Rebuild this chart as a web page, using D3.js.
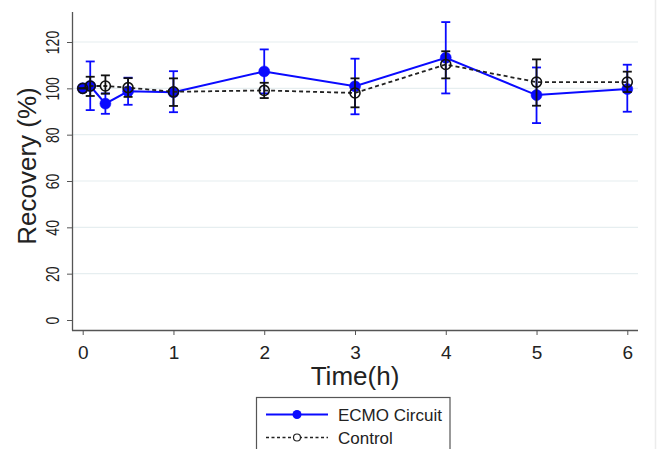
<!DOCTYPE html>
<html>
<head>
<meta charset="utf-8">
<script src="https://cdn.jsdelivr.net/npm/d3@7"></script>
<style>
  body { margin: 0; background: #fff; }
  svg { display: block; font-family: "Liberation Sans", Arial, sans-serif; }
</style>
</head>
<body>
<div id="chart"></div>
<script>
// time points (h)
const time = [0, 0.083, 0.25, 0.5, 1, 2, 3, 4, 5, 6];
// ECMO circuit recovery (%) with error bar limits
const ecmoMean = [100, 101, 93.4, 98.7, 98.3, 107.3, 100.9, 113.2, 97.1, 99.7];
const ecmoLo   = [100, 90.6, 89.0, 92.9, 89.7, 97.8, 88.8, 97.8, 85.0, 89.9];
const ecmoHi   = [100, 111.6, 97.8, 104.6, 107.4, 116.8, 112.8, 128.6, 109.0, 110.2];
// control
const ctrlMean = [100, 101, 101, 100.3, 98.5, 99.1, 98.0, 110.3, 102.7, 102.7];
const ctrlLo   = [100, 96.7, 97.7, 96.3, 92.4, 95.8, 91.8, 104.3, 92.5, 98.4];
const ctrlHi   = [100, 105.0, 105.6, 104.4, 104.3, 102.4, 104.3, 116.0, 112.5, 107.2];

const xTicks = [0, 1, 2, 3, 4, 5, 6];
const yTicks = [0, 20, 40, 60, 80, 100, 120];

const width = 660, height = 449;
const svg = d3.select("#chart").append("svg")
    .attr("width", width).attr("height", height);

const x = d3.scaleLinear().domain([0, 6]).range([82.7, 627.3]);
const y = d3.scaleLinear().domain([0, 120]).range([320, 42]);
const axisColor = "#555";

// faint strip at the right edge
svg.append("line").attr("x1", 655.5).attr("x2", 655.5).attr("y1", 0).attr("y2", height)
    .attr("stroke", "#ececec").attr("stroke-width", 1.5);

// gridlines
svg.append("g").selectAll("line")
    .data(yTicks.filter(d => d > 0))
    .join("line")
    .attr("x1", 73).attr("x2", 638)
    .attr("y1", d => y(d)).attr("y2", d => y(d))
    .attr("stroke", "#e6eef0").attr("stroke-width", 1.2);

// y axis
const yAxis = svg.append("g").attr("transform", "translate(72,0)")
    .call(d3.axisLeft(y).tickValues(yTicks).tickSize(5).tickFormat(d3.format("d")));
yAxis.select(".domain").attr("d", "M0.5,12V330.5");
yAxis.selectAll("line").attr("stroke", axisColor);
yAxis.select(".domain").attr("stroke", axisColor).attr("stroke-width", 1.3);
yAxis.selectAll("text")
    .attr("x", 0).attr("y", 0).attr("dy", null)
    .attr("transform", "translate(-13,0) rotate(-90) scale(0.78,1)")
    .attr("text-anchor", "middle")
    .attr("font-size", 18).attr("fill", "#222");

// x axis
const xAxis = svg.append("g").attr("transform", "translate(0,330)")
    .call(d3.axisBottom(x).tickValues(xTicks).tickSize(5).tickFormat(d3.format("d")));
xAxis.select(".domain").attr("d", "M72,0.5H638").attr("stroke", axisColor).attr("stroke-width", 1.3);
xAxis.selectAll("line").attr("stroke", axisColor);
xAxis.selectAll("text").attr("y", 29).attr("dy", null)
    .attr("font-size", 19).attr("fill", "#222");

// axis titles
svg.append("text")
    .attr("transform", "translate(36,166) rotate(-90)")
    .attr("text-anchor", "middle")
    .attr("font-size", 26).attr("fill", "#222")
    .text("Recovery (%)");
svg.append("text")
    .attr("x", 355).attr("y", 385)
    .attr("text-anchor", "middle")
    .attr("font-size", 26).attr("fill", "#222")
    .text("Time(h)");

const blue = "#0a0aff";
const line = d3.line().x(d => x(d[0])).y(d => y(d[1]));

function drawSeries(mean, lo, hi, color, opts) {
    const g = svg.append("g");
    const pts = time.map((t, i) => [t, mean[i]]);
    g.append("path").datum(pts)
        .attr("d", line)
        .attr("fill", "none")
        .attr("stroke", opts.lineColor)
        .attr("stroke-width", opts.lineWidth)
        .attr("stroke-dasharray", opts.dash);
    const bars = g.selectAll("g.bar").data(time.map((t, i) => ({ t, lo: lo[i], hi: hi[i] })))
        .join("g");
    bars.append("line")
        .attr("x1", d => x(d.t)).attr("x2", d => x(d.t))
        .attr("y1", d => y(d.lo)).attr("y2", d => y(d.hi))
        .attr("stroke", color).attr("stroke-width", 1.8);
    ["lo", "hi"].forEach(k => {
        bars.append("line")
            .attr("x1", d => x(d.t) - 4.5).attr("x2", d => x(d.t) + 4.5)
            .attr("y1", d => y(d[k])).attr("y2", d => y(d[k]))
            .attr("stroke", color).attr("stroke-width", 1.8);
    });
    g.selectAll("circle").data(pts).join("circle")
        .attr("cx", d => x(d[0])).attr("cy", d => y(d[1]))
        .attr("r", opts.r)
        .attr("fill", opts.fill)
        .attr("stroke", color)
        .attr("stroke-width", opts.strokeWidth);
}

drawSeries(ecmoMean, ecmoLo, ecmoHi, blue,
    { lineColor: blue, lineWidth: 2, dash: null, r: 5.5, fill: blue, strokeWidth: 0.5 });
drawSeries(ctrlMean, ctrlLo, ctrlHi, "#111",
    { lineColor: "#222", lineWidth: 1.8, dash: "4,3", r: 5, fill: "none", strokeWidth: 1.6 });

// legend
const leg = svg.append("g");
leg.append("rect")
    .attr("x", 256.5).attr("y", 397.5).attr("width", 193.5).attr("height", 60)
    .attr("fill", "#fff").attr("stroke", axisColor).attr("stroke-width", 1.2);
leg.append("line").attr("x1", 266).attr("x2", 328).attr("y1", 414.5).attr("y2", 414.5)
    .attr("stroke", blue).attr("stroke-width", 1.8);
leg.append("circle").attr("cx", 297).attr("cy", 414.5).attr("r", 4.5).attr("fill", blue);
leg.append("line").attr("x1", 266).attr("x2", 328).attr("y1", 437.5).attr("y2", 437.5)
    .attr("stroke", "#222").attr("stroke-width", 1.3).attr("stroke-dasharray", "3,2.5");
leg.append("circle").attr("cx", 297).attr("cy", 437.5).attr("r", 3.5)
    .attr("fill", "#fff").attr("stroke", "#222").attr("stroke-width", 1.2);
leg.append("text").attr("x", 338).attr("y", 421).attr("font-size", 17).attr("fill", "#222")
    .text("ECMO Circuit");
leg.append("text").attr("x", 338).attr("y", 444).attr("font-size", 17).attr("fill", "#222")
    .text("Control");
</script>
</body>
</html>
